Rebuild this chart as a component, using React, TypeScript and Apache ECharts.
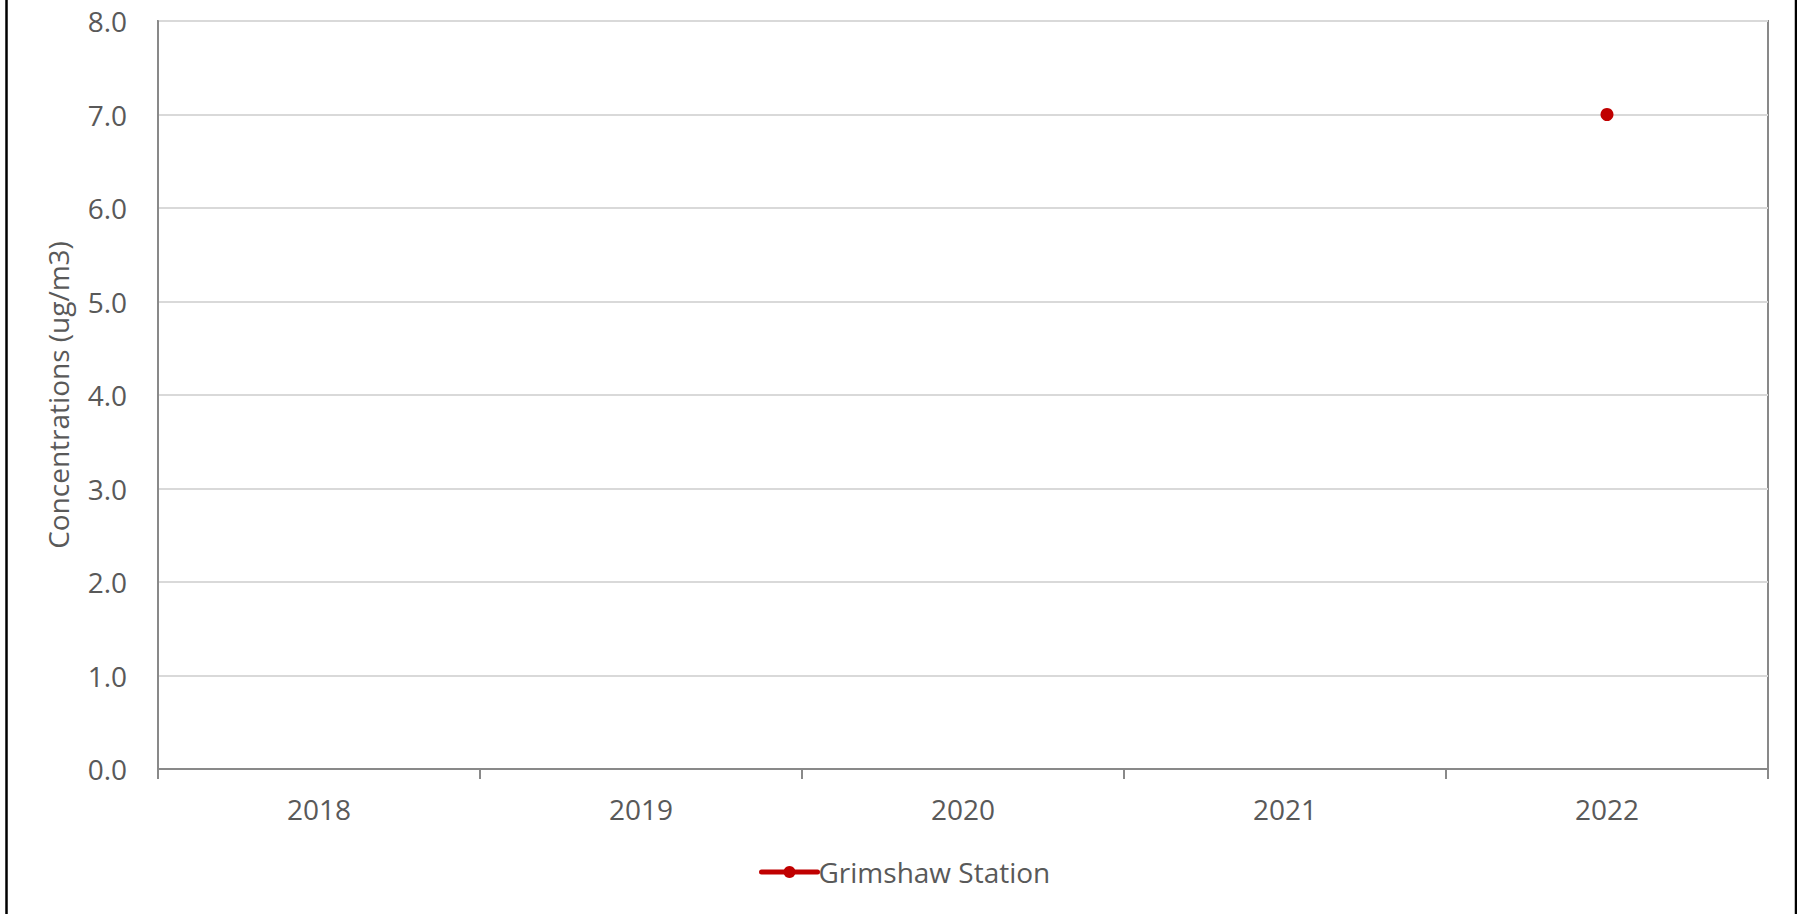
import React, { useEffect, useRef } from "react";
import * as echarts from "echarts";

const years = ["2018", "2019", "2020", "2021", "2022"];
const grimshaw: (number | null)[] = [null, null, null, null, 7.0];
const yMin = 0;
const yMax = 8;
const yStep = 1;

const TEXT = "#595959";
const AXIS = "#898989";
const RED = "#c00000";
const FONT = "'Open Sans', 'Noto Sans', sans-serif";

export default function App() {
  const ref = useRef<HTMLDivElement>(null);

  useEffect(() => {
    if (!ref.current) return;
    const chart = echarts.init(ref.current, null, { renderer: "svg" });
    chart.setOption({
      animation: false,
      backgroundColor: "#ffffff",
      textStyle: { fontFamily: FONT },
      grid: {
        left: 158,
        right: 29,
        top: 21,
        bottom: 145,
        show: true,
        borderColor: AXIS,
        borderWidth: 2,
        containLabel: false,
      },
      xAxis: {
        type: "category",
        data: years,
        boundaryGap: true,
        axisLine: { show: true, lineStyle: { color: AXIS, width: 2 } },
        axisTick: { show: true, length: 10, alignWithLabel: false, lineStyle: { color: AXIS, width: 2 } },
        axisLabel: { color: TEXT, fontSize: 28, margin: 26, fontFamily: FONT },
        splitLine: { show: false },
      },
      yAxis: {
        type: "value",
        min: yMin,
        max: yMax,
        interval: yStep,
        name: "Concentrations (ug/m3)",
        nameLocation: "middle",
        nameGap: 86,
        nameTextStyle: { color: TEXT, fontSize: 28, fontFamily: FONT },
        axisLine: { show: true, lineStyle: { color: AXIS, width: 2 } },
        axisTick: { show: false },
        axisLabel: {
          color: TEXT,
          fontSize: 28,
          margin: 31,
          fontFamily: FONT,
          formatter: (v: number) => v.toFixed(1),
        },
        splitLine: { show: true, lineStyle: { color: "#d9d9d9", width: 2 } },
      },
      legend: {
        show: true,
        left: 754,
        top: 853,
        itemWidth: 56,
        itemHeight: 15,
        itemGap: 20,
        itemStyle: { color: RED },
        lineStyle: { color: RED, width: 5, cap: "round" },
        textStyle: { color: TEXT, fontSize: 28, fontFamily: FONT, padding: [0, 0, 0, -4] },
        data: ["Grimshaw Station"],
      },
      series: [
        {
          name: "Grimshaw Station",
          type: "line",
          data: grimshaw,
          symbol: "circle",
          symbolSize: 13,
          showSymbol: true,
          connectNulls: false,
          itemStyle: { color: RED },
          lineStyle: { color: RED, width: 5 },
        },
      ],
      graphic: [
        {
          type: "rect",
          shape: { x: 6.5, y: -5, width: 1789.5, height: 924 },
          style: { fill: "none", stroke: "#000000", lineWidth: 2.5 },
          silent: true,
        },
      ],
    });
    return () => chart.dispose();
  }, []);

  return (
    <div
      ref={ref}
      style={{ position: "fixed", left: 0, top: 0, width: 1797, height: 914 }}
    />
  );
}
